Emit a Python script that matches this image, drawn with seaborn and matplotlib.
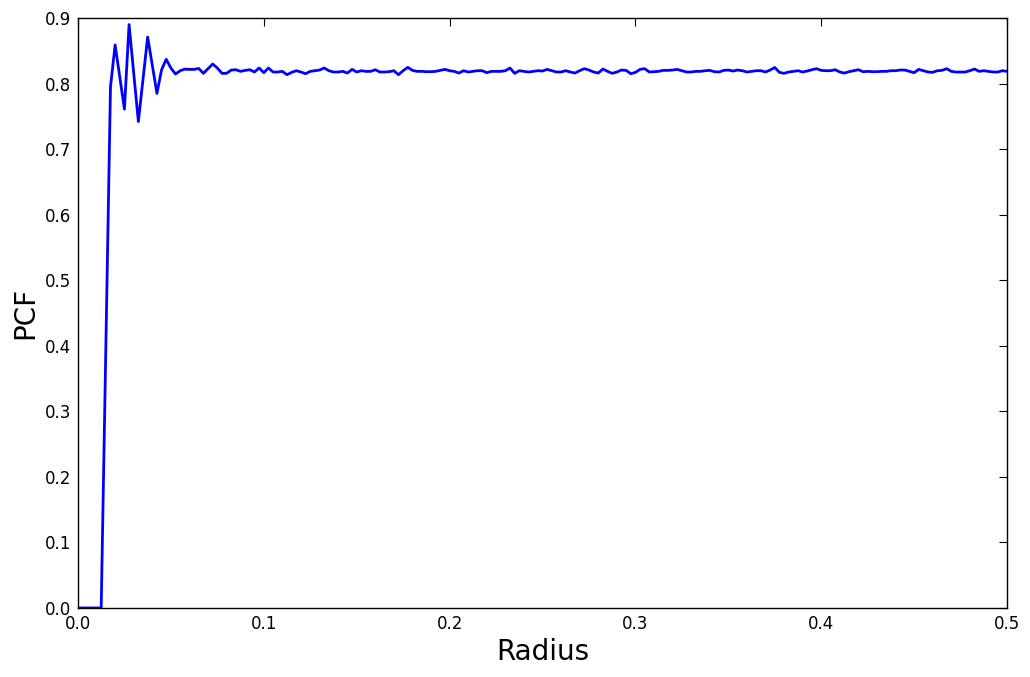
import matplotlib
matplotlib.use("Agg")
import matplotlib.pyplot as plt
import numpy as np
import pandas as pd
import seaborn as sns

# Radius grid (step 0.0025, 0 .. 0.5)
radius = np.linspace(0.0, 0.5, 201)

# PCF values, one per radius
pcf_start = [0.0, 0.0, 0.0, 0.0, 0.0, 0.0, 0.40, 0.795, 0.859, 0.810,
             0.761, 0.890, 0.816, 0.742, 0.807, 0.871, 0.828, 0.785, 0.821, 0.837]
pcf_020 = [0.8237, 0.8145, 0.8196, 0.8220, 0.8216, 0.8216, 0.8230, 0.8156, 0.8227, 0.8298,
           0.8237, 0.8156, 0.8156, 0.8206, 0.8211, 0.8186, 0.8201, 0.8211, 0.8176, 0.8237,
           0.8166, 0.8237, 0.8176, 0.8176, 0.8186, 0.8135, 0.8171, 0.8196, 0.8176, 0.8150]
pcf_050 = [0.8186, 0.8196, 0.8206, 0.8237, 0.8196, 0.8176, 0.8176, 0.8186, 0.8160, 0.8216,
           0.8176, 0.8196, 0.8186, 0.8186, 0.8211, 0.8176, 0.8176, 0.8181, 0.8196, 0.8135,
           0.8196, 0.8247, 0.8201, 0.8186, 0.8186, 0.8181, 0.8181, 0.8186, 0.8201, 0.8216]
pcf_080 = [0.8196, 0.8186, 0.8160, 0.8196, 0.8176, 0.8186, 0.8196, 0.8196, 0.8166, 0.8186,
           0.8186, 0.8186, 0.8196, 0.8237, 0.8156, 0.8196, 0.8186, 0.8176, 0.8186, 0.8196,
           0.8191, 0.8216, 0.8196, 0.8176, 0.8176, 0.8196, 0.8176, 0.8160, 0.8196, 0.8227]
pcf_110 = [0.8206, 0.8176, 0.8160, 0.8222, 0.8186, 0.8156, 0.8176, 0.8206, 0.8201, 0.8150,
           0.8170, 0.8216, 0.8227, 0.8176, 0.8181, 0.8186, 0.8201, 0.8201, 0.8206, 0.8216,
           0.8196, 0.8176, 0.8176, 0.8186, 0.8186, 0.8196, 0.8201, 0.8181, 0.8176, 0.8201]
pcf_140 = [0.8206, 0.8191, 0.8206, 0.8196, 0.8176, 0.8186, 0.8196, 0.8196, 0.8176, 0.8206,
           0.8245, 0.8171, 0.8156, 0.8176, 0.8186, 0.8196, 0.8176, 0.8191, 0.8211, 0.8227,
           0.8201, 0.8196, 0.8196, 0.8211, 0.8176, 0.8160, 0.8181, 0.8196, 0.8211, 0.8181]
pcf_170 = [0.8186, 0.8181, 0.8181, 0.8186, 0.8186, 0.8196, 0.8196, 0.8206, 0.8206, 0.8186,
           0.8166, 0.8216, 0.8196, 0.8176, 0.8171, 0.8196, 0.8201, 0.8227, 0.8186, 0.8176,
           0.8176, 0.8176, 0.8196, 0.8222, 0.8186, 0.8196, 0.8186, 0.8176, 0.8176, 0.8196,
           0.8186]

pcf = pcf_start + pcf_020 + pcf_050 + pcf_080 + pcf_110 + pcf_140 + pcf_170
df = pd.DataFrame({"Radius": radius, "PCF": pcf})

sns.set_style("white")
plt.rcParams["font.family"] = ["DejaVu Sans"]
plt.rcParams["text.color"] = "black"
plt.rcParams["axes.labelcolor"] = "black"
plt.rcParams["xtick.color"] = "black"
plt.rcParams["ytick.color"] = "black"
plt.rcParams["xtick.direction"] = "in"
plt.rcParams["ytick.direction"] = "in"
plt.rcParams["xtick.top"] = True
plt.rcParams["ytick.right"] = True

fig = plt.figure(figsize=(10.3, 6.77), dpi=100)
ax = fig.add_axes([0.0757, 0.102, 0.902, 0.8714])
sns.lineplot(data=df, x="Radius", y="PCF", color="#0000ff", linewidth=2, ax=ax)

ax.set_xlim(0, 0.5)
ax.set_ylim(0, 0.9)
ax.set_xticks(np.arange(0, 0.51, 0.1))
ax.set_yticks(np.arange(0, 0.91, 0.1))
ax.set_xticklabels([f"{v:.1f}" for v in np.arange(0, 0.51, 0.1)])
ax.set_yticklabels([f"{v:.1f}" for v in np.arange(0, 0.91, 0.1)])
ax.tick_params(axis="both", which="major", length=6, width=0.8, colors="black",
               labelsize=12, pad=5, top=True, right=True, direction="in")
for s in ax.spines.values():
    s.set_color("black")
    s.set_linewidth(1)

ax.set_xlabel("Radius", fontsize=20, color="black")
ax.set_ylabel("PCF", fontsize=20, color="black")

fig.savefig("out.png", dpi=100, facecolor="white")
